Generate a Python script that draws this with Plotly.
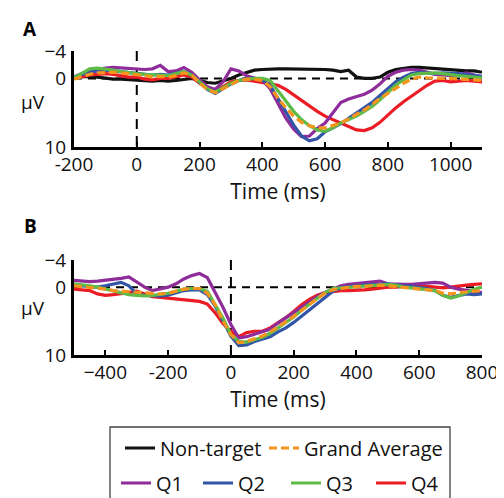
import plotly.graph_objects as go

# ---------------- Data ----------------
time_a = list(range(-200, 1101, 25))
nontarget_a = [-0.2, -0.3, -0.3, -0.2, 0.0, 0.1, 0.1, 0.2, 0.3, 0.4, 0.4, 0.3, 0.4, 0.3, 0.1, 0.0,
               0.3, 0.6, 0.7, 0.4, 0.0, -0.5, -0.9, -1.2, -1.3, -1.4, -1.4, -1.4, -1.4, -1.4, -1.4,
               -1.3, -1.3, -1.2, -1.0, -1.2, -0.2, 0.0, 0.0, -0.2, -0.9, -1.3, -1.5, -1.6, -1.6,
               -1.5, -1.4, -1.3, -1.2, -1.2, -1.1, -1.1, -0.9]
q1_a = [-0.2, -0.7, -1.0, -1.3, -1.5, -1.6, -1.5, -1.4, -1.3, -1.3, -1.4, -1.9, -1.0, -1.1, -1.6,
        -0.9, 0.2, 1.2, 1.6, 0.5, -1.4, -1.1, -0.4, -0.1, 0.3, 1.5, 3.6, 5.8, 7.4, 8.5, 8.4, 7.3,
        6.5, 5.0, 3.5, 3.0, 2.6, 2.3, 1.7, 0.8, -0.3, -0.9, -1.2, -1.3, -1.2, -0.9, -0.6, -0.5,
        -0.4, -0.5, -0.8, -0.5, -0.2]
q2_a = [-0.2, -0.6, -0.9, -1.1, -1.2, -1.1, -1.0, -0.9, -0.8, -0.6, -0.5, -0.6, -0.5, -0.8, -1.0,
        -0.5, 0.6, 1.6, 2.2, 1.5, 0.8, 0.3, 0.0, 0.0, 0.2, 1.0, 2.9, 5.0, 6.8, 8.4, 9.1, 8.8, 7.8,
        7.2, 6.6, 5.8, 5.0, 4.3, 3.5, 2.5, 1.5, 0.5, -0.2, -0.7, -0.9, -0.8, -0.7, -0.8, -0.8,
        -0.7, -0.6, -0.5, -0.3]
q3_a = [-0.1, -0.8, -1.4, -1.5, -1.4, -1.2, -1.0, -0.8, -0.7, -0.6, -0.5, -0.5, -0.4, -0.7, -1.0,
        -0.5, 0.5, 1.5, 2.0, 1.4, 0.7, 0.3, 0.1, 0.0, 0.0, 0.3, 1.8, 3.4, 4.8, 6.0, 6.9, 7.5, 7.7,
        7.2, 6.5, 6.0, 5.5, 4.8, 4.1, 3.1, 2.1, 1.0, 0.2, -0.5, -0.7, -0.8, -0.8, -0.7, -0.5,
        -0.4, -0.3, -0.2, -0.1]
q4_a = [0.0, -0.3, -0.5, -0.6, -0.7, -0.6, -0.4, -0.2, -0.2, 0.1, 0.2, 0.0, 0.0, -0.3, -0.5,
        -0.2, 0.7, 1.3, 1.9, 1.2, 0.5, 0.3, 0.2, 0.4, 0.6, 0.8, 1.0, 1.6, 2.4, 3.2, 4.1, 4.8, 5.5,
        6.0, 6.5, 6.9, 7.5, 7.6, 7.2, 6.4, 5.3, 4.3, 3.4, 2.6, 1.9, 1.0, 0.4, 0.3, 0.5, 0.4, 0.3,
        0.4, 0.5]
grand_a = [0.1, -0.3, -0.6, -0.8, -0.9, -0.9, -0.8, -0.7, -0.6, -0.4, -0.2, -0.3, -0.2, -0.4,
           -0.8, -0.5, 0.7, 1.6, 2.1, 1.5, 0.8, 0.3, 0.1, 0.1, 0.3, 1.2, 2.9, 4.3, 5.5, 6.4, 6.9,
           7.2, 7.2, 6.9, 6.5, 5.9, 5.3, 4.6, 3.8, 2.9, 2.2, 1.4, 0.7, 0.1, -0.2, -0.1, 0.0, 0.0,
           0.0, 0.1, 0.1, 0.2, 0.3]

time_b = list(range(-500, 801, 25))
q1_b = [-1.0, -0.9, -0.8, -0.9, -1.0, -1.1, -1.3, -1.5, -0.8, 0.0, 0.5, 0.3, 0.0, -0.5, -1.2,
        -1.7, -2.0, -1.4, 0.8, 3.0, 5.5, 7.5, 7.3, 6.9, 6.5, 6.2, 5.3, 4.5, 3.7, 2.9, 2.2, 1.4,
        0.8, 0.3, -0.2, -0.4, -0.5, -0.6, -0.7, -0.9, -0.5, -0.4, -0.4, -0.4, -0.5, -0.6, -0.7,
        -0.6, 0.0, 0.3, 0.5, 0.6, 0.8]
q2_b = [-0.3, -0.2, -0.1, 0.0, -0.2, -0.5, -0.7, -0.2, 1.0, 1.2, 1.3, 1.3, 1.2, 0.9, 0.5, 0.4,
        0.4, 1.1, 2.8, 5.0, 7.2, 8.6, 8.5, 8.0, 7.7, 7.3, 6.6, 6.0, 5.2, 4.3, 3.4, 2.5, 1.6, 0.6,
        0.1, -0.1, -0.2, -0.3, -0.3, -0.4, -0.5, -0.3, -0.2, -0.1, 0.0, 0.2, 0.5, 1.2, 1.5, 1.2,
        1.0, 1.1, 1.0]
q3_b = [-0.5, -0.4, -0.2, 0.0, 0.3, 0.6, 0.9, 1.1, 1.2, 1.3, 1.2, 1.1, 0.9, 0.6, 0.3, 0.2, 0.2,
        0.6, 2.5, 4.6, 7.0, 8.0, 8.1, 7.8, 7.4, 6.8, 6.0, 5.1, 4.4, 3.4, 2.5, 1.6, 0.8, 0.2, 0.1,
        0.0, 0.0, -0.1, -0.2, -0.3, -0.4, -0.3, 0.0, 0.1, 0.2, 0.3, 0.5, 1.2, 1.6, 1.3, 0.8, 0.3,
        0.0]
q4_b = [0.3, 0.4, 0.5, 1.0, 1.2, 1.1, 1.0, 0.8, 0.6, 1.0, 1.4, 1.5, 1.6, 1.7, 1.9, 2.0, 2.1,
        2.5, 3.8, 5.4, 6.5, 7.3, 6.7, 6.5, 6.5, 6.0, 5.3, 4.5, 3.6, 2.6, 1.8, 1.2, 0.8, 0.6, 0.5,
        0.5, 0.5, 0.4, 0.3, 0.1, 0.0, 0.0, -0.2, -0.2, -0.3, -0.1, 0.0, 0.1, 0.0, -0.2, -0.3,
        -0.4, -0.5]
grand_b = [-0.2, -0.1, 0.1, 0.2, 0.3, 0.5, 0.6, 0.7, 0.8, 0.9, 1.0, 1.0, 0.9, 0.6, 0.3, 0.2,
           0.2, 0.9, 2.6, 5.0, 7.0, 8.2, 8.0, 7.6, 7.2, 6.6, 5.9, 5.1, 4.3, 3.4, 2.6, 1.7, 0.9,
           0.4, 0.2, 0.0, -0.1, -0.1, -0.2, -0.3, -0.2, -0.1, 0.0, 0.1, 0.2, 0.3, 0.5, 0.9, 1.0,
           0.8, 0.7, 0.6, 0.5]

yticks = [-4, 0, 10]
ytext = ["\u22124", "0", "10"]
xticks_a = [-200, 0, 200, 400, 600, 800, 1000]
xtext_a = ["-200", "0", "200", "400", "600", "800", "1000"]
xticks_b = [-400, -200, 0, 200, 400, 600, 800]
xtext_b = ["\u2212400", "-200", "0", "200", "400", "600", "800"]

# ---------------- Styles ----------------
C_BLACK = "#111111"
C_PURPLE = "#8E2C9A"
C_BLUE = "#3355A8"
C_GREEN = "#5DBB46"
C_RED = "#EC1C24"
C_ORANGE = "#F7941D"
FONT = "Open Sans"
W, H = 504, 498
ML, MR = 66, 30
PW = W - ML - MR


def px_x(p):
    return (p - ML) / PW


def px_y(p):
    return 1 - p / H


fig = go.Figure()

series_a = [("Non-target", nontarget_a, C_BLACK, "solid", "legend"),
            ("Q4", q4_a, C_RED, "solid", "legend6"),
            ("Q1", q1_a, C_PURPLE, "solid", "legend3"),
            ("Q2", q2_a, C_BLUE, "solid", "legend4"),
            ("Q3", q3_a, C_GREEN, "solid", "legend5"),
            ("Grand Average", grand_a, C_ORANGE, "8px,4px", "legend2")]
for name, ys, col, dash, lg in series_a:
    fig.add_trace(go.Scatter(x=time_a, y=ys, mode="lines", name=name,
                             line=dict(color=col, width=3.2, dash=dash),
                             xaxis="x", yaxis="y", legend=lg, showlegend=True))

series_b = [("Q4", q4_b, C_RED, "solid"),
            ("Q1", q1_b, C_PURPLE, "solid"),
            ("Q2", q2_b, C_BLUE, "solid"),
            ("Q3", q3_b, C_GREEN, "solid"),
            ("Grand Average", grand_b, C_ORANGE, "8px,4px")]
for name, ys, col, dash in series_b:
    fig.add_trace(go.Scatter(x=time_b, y=ys, mode="lines", name=name,
                             line=dict(color=col, width=3.2, dash=dash),
                             xaxis="x2", yaxis="y2", showlegend=False))

# reference dashed lines
for xr, yr, xmin, xmax in [("x", "y", -200, 1100), ("x2", "y2", -500, 800)]:
    fig.add_shape(type="line", xref=xr, yref=yr, x0=xmin, x1=xmax, y0=0, y1=0,
                  line=dict(color="black", width=2, dash="8px,6px"), layer="below")
    fig.add_shape(type="line", xref=xr, yref=yr, x0=0, x1=0, y0=-4, y1=10,
                  line=dict(color="black", width=2, dash="10px,7px"), layer="below")

title_font = dict(family=FONT, size=21, color="#111")
axis_common = dict(showline=True, linecolor="black", linewidth=3, showgrid=False,
                   zeroline=False, ticks="inside", ticklen=5, tickwidth=2, tickcolor="black",
                   automargin=False, ticklabelstandoff=-2,
                   tickfont=dict(family=FONT, size=19, color="#111"))
yaxis_common = dict(showline=True, linecolor="black", linewidth=3, showgrid=False,
                    zeroline=False, ticks="", tickvals=yticks, ticktext=ytext, automargin=False,
                    ticklabelstandoff=1,
                    range=[10, -4], tickfont=dict(family=FONT, size=19, color="#111"))

fig.update_layout(
    width=W, height=H,
    margin=dict(l=ML, r=MR, t=0, b=0),
    paper_bgcolor="white", plot_bgcolor="white",
    xaxis=dict(domain=[0, 1], range=[-200, 1100], tickvals=xticks_a, ticktext=xtext_a,
               anchor="y", title=dict(text="Time (ms)", font=title_font, standoff=0),
               **axis_common),
    yaxis=dict(domain=[px_y(139), px_y(43)], anchor="x", **yaxis_common),
    xaxis2=dict(domain=[0, 1], range=[-500, 800], tickvals=xticks_b, ticktext=xtext_b,
                anchor="y2", title=dict(text="Time (ms)", font=title_font, standoff=0),
                **axis_common),
    yaxis2=dict(domain=[px_y(347), px_y(252)], anchor="x2", **yaxis_common),
)

# panel letters and unit labels
for txt, y in [("A", 21), ("B", 218)]:
    fig.add_annotation(text="<b>%s</b>" % txt, x=px_x(22), y=px_y(y), xref="paper", yref="paper",
                       showarrow=False, xanchor="center", yanchor="middle",
                       font=dict(family=FONT, size=19, color="black"))
for y in [94, 300]:
    fig.add_annotation(text="\u03bcV", x=px_x(25), y=px_y(y), xref="paper", yref="paper",
                       showarrow=False, xanchor="center", yanchor="middle",
                       font=dict(family=FONT, size=19, color="#111"))

# legend box
fig.add_shape(type="rect", xref="paper", yref="paper", x0=px_x(102), x1=px_x(442),
              y0=px_y(510), y1=px_y(419), line=dict(color="#444", width=1.3),
              fillcolor="rgba(0,0,0,0)")

leg_font = dict(family=FONT, size=20, color="#111")
legend_pos = {"legend": (112, 440), "legend2": (256, 440), "legend3": (108, 475),
              "legend4": (190, 475), "legend5": (278, 475), "legend6": (363, 475)}
for lg, (lx, ly) in legend_pos.items():
    fig.update_layout({lg: dict(x=px_x(lx), y=px_y(ly), xanchor="left", yanchor="middle",
                                xref="paper", yref="paper", bgcolor="rgba(0,0,0,0)",
                                borderwidth=0, font=leg_font, orientation="h",
                                itemwidth=30, tracegroupgap=0)})

fig.write_html("out.html")
